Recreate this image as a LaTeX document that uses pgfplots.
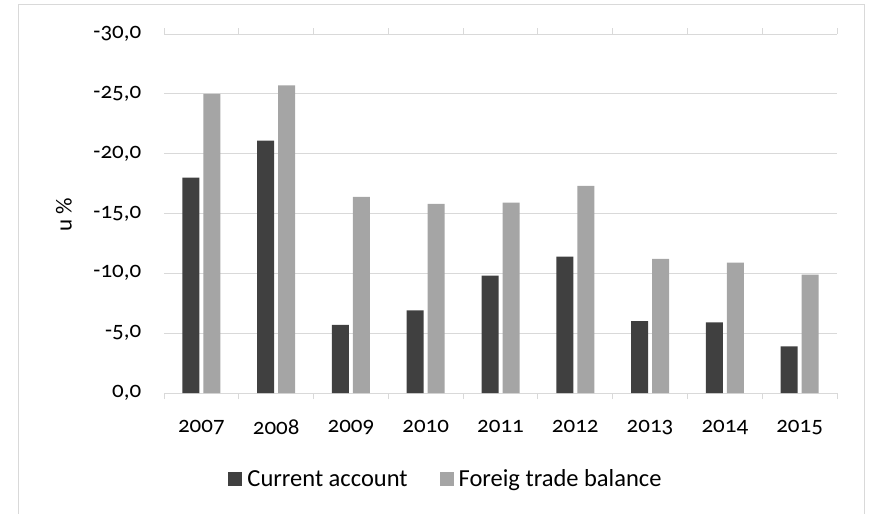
\documentclass[border=0pt]{standalone}
\usepackage{pgfplots}
\pgfplotsset{compat=1.18}
\usepackage{fontspec}
\setmainfont{Carlito}[Numbers=OldStyle]
\definecolor{cdark}{HTML}{404040}
\definecolor{clight}{HTML}{A5A5A5}
\definecolor{cgrid}{HTML}{D9D9D9}
\newcommand{\bigf}{\fontsize{23bp}{27bp}\selectfont}
\newcommand{\legf}{\fontsize{24.5bp}{28bp}\selectfont}
\begin{document}
\begin{tikzpicture}
\begin{axis}[
  at={(164bp,121bp)}, anchor=south west,
  width=673bp, height=359bp, scale only axis,
  ybar=4bp, bar width=17bp,
  xmin=-0.5, xmax=8.5,
  ymin=-30, ymax=0, y dir=reverse,
  axis line style={draw=none},
  xtick={0,...,8},
  xticklabels={2007,2008,2009,2010,2011,2012,2013,2014,2015},
  major x tick style={draw=none},
  minor xtick={-0.5,0.5,...,8.5},
  minor x tick style={cgrid, line width=1bp},
  minor tick length=6bp,
  tick align=outside,
  ytick={-30,-25,-20,-15,-10,-5,0},
  yticklabels={{-30,0},{-25,0},{-20,0},{-15,0},{-10,0},{-5,0},{0,0}},
  major y tick style={draw=none},
  ymajorgrids, grid style={cgrid, line width=1bp},
  every tick label/.append style={font=\bigf, text=black},
  xticklabel style={yshift=-19bp},
  yticklabel style={xshift=-15bp},
  ylabel={u \%},
  ylabel style={at={(axis description cs:-0.1486,0.496)}, anchor=center, font=\bigf},
  legend style={at={(0.419,-0.2396)}, anchor=center, draw=none, fill=none,
    legend columns=2, font=\legf,
    /tikz/every odd column/.append style={column sep=3bp},
    /tikz/every even column/.append style={column sep=30bp}},
  legend image code/.code={\fill[#1,draw=none] (0bp,-7bp) rectangle (14bp,7bp);},
]
\addplot[fill=cdark, draw=none] coordinates {
  (0,-18.0) (1,-21.1) (2,-5.7) (3,-6.9) (4,-9.8) (5,-11.4) (6,-6.0) (7,-5.9) (8,-3.9)};
\addplot[fill=clight, draw=none] coordinates {
  (0,-25.0) (1,-25.7) (2,-16.4) (3,-15.8) (4,-15.9) (5,-17.3) (6,-11.2) (7,-10.9) (8,-9.9)};
\legend{Current account, Foreig trade balance}
\end{axis}
\draw[cgrid, line width=1bp] (18bp,-20bp) rectangle (864bp,509bp);
\pgfresetboundingbox
\useasboundingbox (0,0) rectangle (871bp,514bp);
\end{tikzpicture}
\end{document}
